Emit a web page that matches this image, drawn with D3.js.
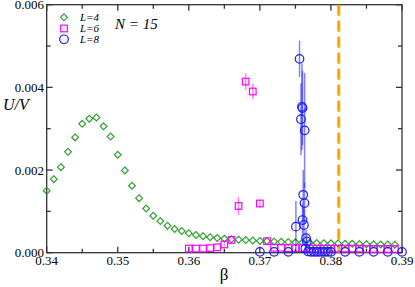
<!DOCTYPE html>
<html><head><meta charset="utf-8">
<script src="https://cdn.jsdelivr.net/npm/d3@7"></script>
<style>body{margin:0;background:#fff}svg{display:block}</style>
</head><body>
<script>
// ---- data ----
const xTicks = [0.34, 0.35, 0.36, 0.37, 0.38, 0.39];
const yTicks = [0.000, 0.002, 0.004, 0.006];
const xTickLabels = ["0.34", "0.35", "0.36", "0.37", "0.38", "0.39"];
const yTickLabels = ["0.000", "0.002", "0.004", "0.006"];

const betaL4 = [0.340,0.341,0.342,0.343,0.344,0.345,0.346,0.347,0.348,0.349,
  0.350,0.351,0.352,0.353,0.354,0.355,0.356,0.357,0.358,0.359,
  0.360,0.361,0.362,0.363,0.364,0.365,0.366,0.367,0.368,0.369,
  0.370,0.371,0.372,0.373,0.374,0.375,0.376,0.377,0.378,0.379,
  0.380,0.381,0.382,0.383,0.384,0.385,0.386,0.387,0.388,0.389];
const valL4 = [1.50e-3,1.78e-3,2.07e-3,2.44e-3,2.79e-3,3.12e-3,3.24e-3,3.27e-3,3.06e-3,2.81e-3,
  2.37e-3,1.99e-3,1.62e-3,1.32e-3,1.07e-3,0.895e-3,0.767e-3,0.653e-3,0.573e-3,0.525e-3,
  0.469e-3,0.430e-3,0.400e-3,0.375e-3,0.355e-3,0.340e-3,0.325e-3,0.315e-3,0.305e-3,0.295e-3,
  0.285e-3,0.277e-3,0.270e-3,0.263e-3,0.257e-3,0.250e-3,0.245e-3,0.240e-3,0.235e-3,0.230e-3,
  0.226e-3,0.222e-3,0.218e-3,0.214e-3,0.210e-3,0.207e-3,0.204e-3,0.201e-3,0.198e-3,0.195e-3];

const betaL6 = [0.360,0.361,0.362,0.363,0.364,0.365,0.366,0.367,0.368,0.369,
  0.370,0.371,0.372,0.373,0.374,0.375,0.376,0.377,0.378,0.379,
  0.380,0.381,0.382,0.383,0.384,0.385,0.386,0.387,0.388,0.389];
const valL6 = [0.10e-3,0.10e-3,0.10e-3,0.11e-3,0.13e-3,0.20e-3,0.31e-3,1.13e-3,4.14e-3,3.90e-3,
  1.19e-3,0.28e-3,0.12e-3,0.12e-3,0.11e-3,0.11e-3,0.11e-3,0.10e-3,0.10e-3,0.10e-3,
  0.10e-3,0.10e-3,0.10e-3,0.10e-3,0.10e-3,0.09e-3,0.09e-3,0.09e-3,0.09e-3,0.09e-3];
const errL6 = [0,0,0,0,0,0.05e-3,0,0.22e-3,0.20e-3,0.19e-3,
  0.10e-3,0,0,0,0,0,0,0,0,0,
  0,0,0,0,0,0,0,0,0,0];

const betaL8 = [0.370,0.372,0.374,0.37507,0.37558,0.37578,0.37592,0.37600,0.37630,
  0.37610,0.37628,0.37600,0.37620,0.37650,0.37660,
  0.3764,0.3768,0.3772,0.3776,0.3780,0.3784,0.3788,0.3792,0.3796,0.3800,
  0.382,0.384,0.386,0.388,0.390];
const valL8 = [0.02e-3,0.02e-3,0.02e-3,0.63e-3,4.69e-3,3.23e-3,3.53e-3,3.50e-3,2.96e-3,
  1.40e-3,1.20e-3,0.79e-3,0.67e-3,0.35e-3,0.27e-3,
  0.10e-3,0.03e-3,0.02e-3,0.02e-3,0.02e-3,0.02e-3,0.02e-3,0.02e-3,0.02e-3,0.02e-3,
  0.02e-3,0.02e-3,0.02e-3,0.02e-3,0.02e-3];
const errL8 = [0,0,0,0.62e-3,0.44e-3,0.87e-3,1.05e-3,0.90e-3,1.39e-3,
  0.60e-3,0.50e-3,0.40e-3,0.40e-3,0.20e-3,0.15e-3,
  0.05e-3,0,0,0,0,0,0,0,0,0,
  0,0,0,0,0];

const betaCritical = 0.3811;
const legendLabels = ["L=4", "L=6", "L=8"];

// ---- layout ----
const W = 415, H = 287;
const m = {left: 46.7, right: 402, top: 4.7, bottom: 252.7};
const x = d3.scaleLinear().domain([0.34, 0.39]).range([m.left, m.right]);
const y = d3.scaleLinear().domain([0, 0.006]).range([m.bottom, m.top]);

const green = "#30a030", pink = "#ff00ff", blue = "#1a1aff", orange = "#ffa500";
const serif = "'Liberation Serif','DejaVu Serif',serif";

const svg = d3.select("body").append("svg").attr("width", W).attr("height", H);

// frame + axes
const ax = svg.append("g").attr("stroke", "#333").attr("stroke-width", 1.3).attr("fill", "none");
ax.append("rect").attr("x", m.left).attr("y", m.top).attr("width", m.right - m.left).attr("height", m.bottom - m.top);

const xMinor = d3.range(0.345, 0.39, 0.01);
const yMinor = [0.001, 0.003, 0.005];
xTicks.forEach(t => {
  ax.append("line").attr("x1", x(t)).attr("x2", x(t)).attr("y1", m.bottom).attr("y2", m.bottom - 6);
  ax.append("line").attr("x1", x(t)).attr("x2", x(t)).attr("y1", m.top).attr("y2", m.top + 6);
});
xMinor.forEach(t => {
  ax.append("line").attr("x1", x(t)).attr("x2", x(t)).attr("y1", m.bottom).attr("y2", m.bottom - 4);
  ax.append("line").attr("x1", x(t)).attr("x2", x(t)).attr("y1", m.top).attr("y2", m.top + 4);
});
yTicks.forEach(t => {
  ax.append("line").attr("y1", y(t)).attr("y2", y(t)).attr("x1", m.left).attr("x2", m.left + 6);
  ax.append("line").attr("y1", y(t)).attr("y2", y(t)).attr("x1", m.right).attr("x2", m.right - 6);
});
yMinor.forEach(t => {
  ax.append("line").attr("y1", y(t)).attr("y2", y(t)).attr("x1", m.left).attr("x2", m.left + 4);
  ax.append("line").attr("y1", y(t)).attr("y2", y(t)).attr("x1", m.right).attr("x2", m.right - 4);
});

// tick labels
svg.append("g").selectAll("text").data(xTicks).join("text")
  .attr("x", d => x(d)).attr("y", 265).attr("text-anchor", "middle")
  .attr("font-family", serif).attr("font-size", 13).attr("fill", "#000")
  .text((d, i) => xTickLabels[i]);
svg.append("g").selectAll("text").data(yTicks).join("text")
  .attr("x", 44).attr("y", d => y(d)).attr("dy", "0.35em").attr("text-anchor", "end")
  .attr("font-family", serif).attr("font-size", 13).attr("fill", "#000")
  .text((d, i) => yTickLabels[i]);

// axis labels
svg.append("text").attr("x", 3).attr("y", 110).attr("font-family", serif).attr("font-style", "italic")
  .attr("font-size", 16).text("U/V");
svg.append("text").attr("x", 224).attr("y", 280).attr("text-anchor", "middle").attr("font-family", serif)
  .attr("font-size", 17).text("β");

// critical line
svg.append("line").attr("x1", x(betaCritical)).attr("x2", x(betaCritical))
  .attr("y1", m.top).attr("y2", m.bottom)
  .attr("stroke", orange).attr("stroke-width", 3).attr("stroke-dasharray", "11,5");

// L=4 diamonds
const dL4 = betaL4.map((b, i) => ({b, v: valL4[i]}));
const diamond = s => `M0,${-s}L${s},0L0,${s}L${-s},0Z`;
svg.append("g").selectAll("path").data(dL4).join("path")
  .attr("d", diamond(3.4)).attr("transform", d => `translate(${x(d.b)},${y(d.v)})`)
  .attr("fill", "none").attr("stroke", green).attr("stroke-width", 1.2);

// L=6 squares with error bars
const dL6 = betaL6.map((b, i) => ({b, v: valL6[i], e: errL6[i]}));
svg.append("g").selectAll("line").data(dL6.filter(d => d.e > 0)).join("line")
  .attr("x1", d => x(d.b)).attr("x2", d => x(d.b))
  .attr("y1", d => y(d.v - d.e)).attr("y2", d => y(d.v + d.e))
  .attr("stroke", pink).attr("stroke-opacity", 0.5).attr("stroke-width", 1.5);
svg.append("g").selectAll("rect").data(dL6).join("rect")
  .attr("x", d => x(d.b) - 3.3).attr("y", d => y(d.v) - 3.3).attr("width", 6.6).attr("height", 6.6)
  .attr("fill", "none").attr("stroke", pink).attr("stroke-width", 1.2);

// L=8 circles with error bars
const dL8 = betaL8.map((b, i) => ({b, v: valL8[i], e: errL8[i]}));
svg.append("g").selectAll("line").data(dL8.filter(d => d.e > 0)).join("line")
  .attr("x1", d => x(d.b)).attr("x2", d => x(d.b))
  .attr("y1", d => y(Math.max(0, d.v - d.e))).attr("y2", d => y(d.v + d.e))
  .attr("stroke", blue).attr("stroke-opacity", 0.55).attr("stroke-width", 1.5);
svg.append("g").selectAll("circle").data(dL8).join("circle")
  .attr("cx", d => x(d.b)).attr("cy", d => y(d.v)).attr("r", 4.3)
  .attr("fill", "none").attr("stroke", blue).attr("stroke-width", 1.2);

// legend
const lg = svg.append("g");
const lgY = [17.3, 28.5, 39.3];
lg.append("path").attr("d", diamond(3.4)).attr("transform", `translate(64,${lgY[0]})`)
  .attr("fill", "none").attr("stroke", green).attr("stroke-width", 1.2);
lg.append("rect").attr("x", 64 - 3.3).attr("y", lgY[1] - 3.3).attr("width", 6.6).attr("height", 6.6)
  .attr("fill", "none").attr("stroke", pink).attr("stroke-width", 1.2);
lg.append("circle").attr("cx", 64).attr("cy", lgY[2]).attr("r", 4.3)
  .attr("fill", "none").attr("stroke", blue).attr("stroke-width", 1.2);
legendLabels.forEach((t, i) => {
  lg.append("text").attr("x", 80).attr("y", lgY[i]).attr("dy", "0.35em")
    .attr("font-family", serif).attr("font-style", "italic").attr("font-size", 11).text(t);
});
svg.append("text").attr("x", 115).attr("y", 29).attr("font-family", serif).attr("font-style", "italic")
  .attr("font-size", 15).text("N = 15");
</script>
</body></html>
